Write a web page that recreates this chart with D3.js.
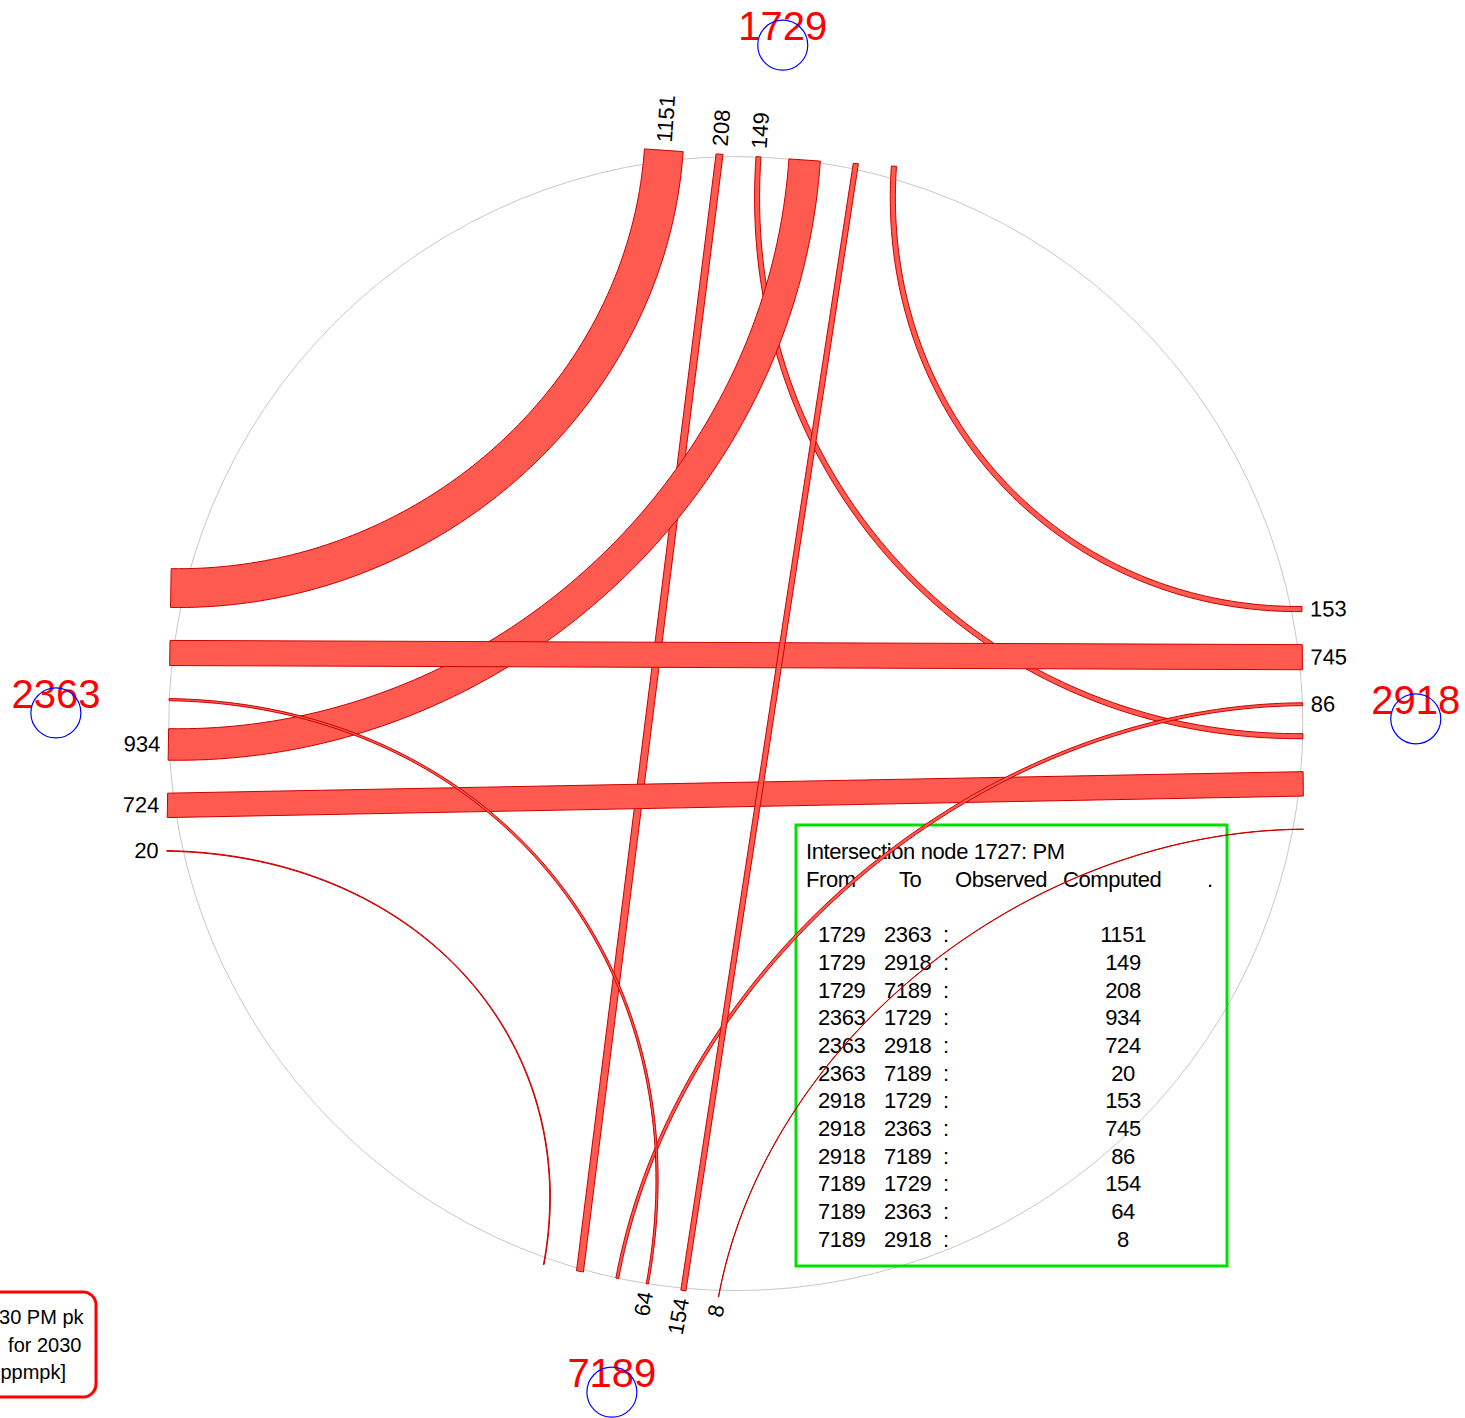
<!DOCTYPE html>
<html><head><meta charset="utf-8">
<script src="https://cdn.jsdelivr.net/npm/d3@7"></script>
<style>
html,body{margin:0;padding:0;background:#fff;overflow:hidden}
svg{display:block;font-family:"Liberation Sans",Arial,Helvetica,sans-serif}
</style></head>
<body><svg id="chart" width="1465" height="1418"></svg>
<script>
// ---------- data ----------
const nodeIds = ["1729", "2363", "2918", "7189"];
const nodeBearings = [3.96, 270.9, 89.6, 190.5];   // approach bearing (deg, clockwise from north)
const flowFrom = ["1729","1729","1729","2363","2363","2363","2918","2918","2918","7189","7189","7189"];
const flowTo   = ["2363","2918","7189","1729","2918","7189","1729","2363","7189","1729","2363","2918"];
const flowComputed = [1151, 149, 208, 934, 724, 20, 153, 745, 86, 154, 64, 8];
const flowObserved = ["", "", "", "", "", "", "", "", "", "", "", ""];
const tableTitle = "Intersection node 1727: PM";
const tableHeader = ["From", "To", "Observed", "Computed", "."];
const noteLines = ["30 PM pk", " for 2030", "ppmpk]"];

// ---------- layout ----------
const svg = d3.select("#chart");
const cx = 735.8, cy = 723.6, R = 567, nodeDist = 680;
const gapMid = 28, gap = 33;
const kappa = 0.5523;
const widthScale = d3.scaleLinear().domain([0, 1151]).range([0, 38.8]);
const rad = d => d * Math.PI / 180;

const nodes = nodeIds.map((id, i) => {
  const b = rad(nodeBearings[i]);
  const out = [Math.sin(b), -Math.cos(b)];
  return {id, bearing: nodeBearings[i], out, inw: [-out[0], -out[1]], cw: [Math.cos(b), Math.sin(b)],
    T: [cx + R * out[0], cy + R * out[1]],
    M: [cx + nodeDist * out[0], cy + nodeDist * out[1]]};
});
const nodeById = new Map(nodes.map(n => [n.id, n]));

const flows = flowFrom.map((f, i) => ({from: f, to: flowTo[i], value: flowComputed[i], w: widthScale(flowComputed[i]), idx: i}));

// place endpoints along each node's tangent line
nodes.forEach(n => {
  const others = nodes.filter(o => o !== n)
    .sort((a, b) => ((n.bearing - a.bearing + 360) % 360) - ((n.bearing - b.bearing + 360) % 360))
    .map(o => o.id);
  const outs = others.map(id => flows.find(f => f.from === n.id && f.to === id));
  const ins = others.map(id => flows.find(f => f.to === n.id && f.from === id));
  let s = -gapMid / 2;
  for (let k = outs.length - 1; k >= 0; k--) {
    const f = outs[k];
    f.srcS = s - f.w / 2; s = s - f.w - gap;
  }
  s = gapMid / 2;
  ins.forEach(f => { f.dstS = s + f.w / 2; s = s + f.w + gap; });
});

function endPt(n, s) { return [n.T[0] + n.cw[0] * s, n.T[1] + n.cw[1] * s]; }

function bandPoints(f) {
  const a = nodeById.get(f.from), b = nodeById.get(f.to);
  const P0 = endPt(a, f.srcS), P1 = endPt(b, f.dstS);
  const h = f.w / 2;
  let diff = Math.abs(a.bearing - b.bearing) % 360; if (diff > 180) diff = 360 - diff;
  if (diff > 135) {
    const d = [P1[0] - P0[0], P1[1] - P0[1]];
    const N = [-d[1], d[0]];
    const s0 = Math.sign(N[0] * a.cw[0] + N[1] * a.cw[1]) || 1;
    const s1 = Math.sign(N[0] * b.cw[0] + N[1] * b.cw[1]) || 1;
    return [
      [P0[0] + a.cw[0] * s0 * h, P0[1] + a.cw[1] * s0 * h],
      [P1[0] + b.cw[0] * s1 * h, P1[1] + b.cw[1] * s1 * h],
      [P1[0] - b.cw[0] * s1 * h, P1[1] - b.cw[1] * s1 * h],
      [P0[0] - a.cw[0] * s0 * h, P0[1] - a.cw[1] * s0 * h]];
  }
  const n0 = a.inw, n1 = b.inw;
  const dx = P1[0] - P0[0], dy = P1[1] - P0[1];
  const det = -n0[0] * n1[1] + n1[0] * n0[1];
  const t = (-dx * n1[1] + n1[0] * dy) / det;
  const C = [P0[0] + n0[0] * t, P0[1] + n0[1] * t];
  const Q0 = [P0[0] + kappa * (C[0] - P0[0]), P0[1] + kappa * (C[1] - P0[1])];
  const Q1 = [P1[0] + kappa * (C[0] - P1[0]), P1[1] + kappa * (C[1] - P1[1])];
  const left = [], right = [];
  const Nn = 100;
  for (let i = 0; i <= Nn; i++) {
    const u = i / Nn, v = 1 - u;
    const b0 = v*v*v, b1 = 3*v*v*u, b2 = 3*v*u*u, b3 = u*u*u;
    const B = [b0*P0[0] + b1*Q0[0] + b2*Q1[0] + b3*P1[0], b0*P0[1] + b1*Q0[1] + b2*Q1[1] + b3*P1[1]];
    const D = [3*v*v*(Q0[0]-P0[0]) + 6*v*u*(Q1[0]-Q0[0]) + 3*u*u*(P1[0]-Q1[0]),
               3*v*v*(Q0[1]-P0[1]) + 6*v*u*(Q1[1]-Q0[1]) + 3*u*u*(P1[1]-Q1[1])];
    const L = Math.hypot(D[0], D[1]);
    const N = [-D[1] / L, D[0] / L];
    left.push([B[0] + N[0] * h, B[1] + N[1] * h]);
    right.push([B[0] - N[0] * h, B[1] - N[1] * h]);
  }
  return left.concat(right.reverse());
}

// ---------- drawing ----------
svg.append("circle").attr("cx", cx).attr("cy", cy).attr("r", R)
  .attr("fill", "none").attr("stroke", "#c8c8c8").attr("stroke-width", 1);

// table box
const tb = svg.append("g");
tb.append("rect").attr("x", 796).attr("y", 825).attr("width", 431).attr("height", 441)
  .attr("fill", "none").attr("stroke", "#00e000").attr("stroke-width", 3);
const lh = 27.7, ty0 = 859;
const tStyle = s => s.attr("font-size", 22).attr("letter-spacing", -0.4).attr("fill", "#000");
tb.append("text").attr("x", 806).attr("y", ty0).text(tableTitle).call(tStyle);
const hdrX = [806, 899, 955, 1063, 1207];
tb.selectAll("text.h").data(tableHeader).join("text").attr("class", "h")
  .attr("x", (d, i) => hdrX[i]).attr("y", ty0 + lh).text(d => d).call(tStyle);
const rows = tb.selectAll("g.row").data(flows).join("g").attr("class", "row")
  .attr("transform", (d, i) => `translate(0,${ty0 + lh * (3 + i)})`);
rows.append("text").attr("x", 818).text(d => d.from).call(tStyle);
rows.append("text").attr("x", 884).text(d => d.to).call(tStyle);
rows.append("text").attr("x", 943).text(":").call(tStyle);
rows.append("text").attr("x", 1010).attr("text-anchor", "middle").text((d, i) => flowObserved[i]).call(tStyle);
rows.append("text").attr("x", 1123).attr("text-anchor", "middle").text(d => d.value).call(tStyle);

// flow bands
const line = d3.line().curve(d3.curveLinearClosed);
svg.append("g").selectAll("path").data(flows).join("path")
  .attr("d", d => line(bandPoints(d)))
  .attr("fill", "#ff5a50").attr("stroke", "#cc0000").attr("stroke-width", 1)
  .attr("stroke-linejoin", "round");

// flow value labels (outgoing ends)
svg.append("g").selectAll("text").data(flows).join("text")
  .each(function(f) {
    const n = nodeById.get(f.from);
    const P = endPt(n, f.srcS);
    const x = P[0] + n.out[0] * 8, y = P[1] + n.out[1] * 8;
    let ang = Math.atan2(n.out[1], n.out[0]) * 180 / Math.PI;
    let anchor = "start";
    if (ang > 91) { ang -= 180; anchor = "end"; }
    else if (ang < -91) { ang += 180; anchor = "end"; }
    d3.select(this).attr("transform", `translate(${x},${y}) rotate(${ang})`)
      .attr("text-anchor", anchor).attr("dominant-baseline", "central")
      .attr("font-size", 22).attr("fill", "#000").text(f.value);
  });

// node labels and markers
const ng = svg.append("g").selectAll("g").data(nodes).join("g");
ng.append("text").attr("x", d => d.M[0]).attr("y", d => d.M[1] - 5)
  .attr("text-anchor", "middle").attr("font-size", 40).attr("fill", "#ff0000").text(d => d.id);
ng.append("circle").attr("cx", d => d.M[0]).attr("cy", d => d.M[1]).attr("r", 25)
  .attr("fill", "none").attr("stroke", "#0000ff").attr("stroke-width", 1.2);

// note box (bottom-left, partly off-canvas)
const nb = svg.append("g");
nb.append("rect").attr("x", -120).attr("y", 1292).attr("width", 216).attr("height", 105)
  .attr("rx", 13).attr("fill", "none").attr("stroke", "#ff0000").attr("stroke-width", 3);
const noteX = [83.5, 81.5, 66];
nb.selectAll("text").data(noteLines).join("text")
  .attr("x", (d, i) => noteX[i]).attr("y", (d, i) => 1324 + i * 27.7)
  .attr("text-anchor", "end").attr("font-size", 20).attr("fill", "#000")
  .attr("xml:space", "preserve").style("white-space", "pre").text(d => d);
</script></body></html>
